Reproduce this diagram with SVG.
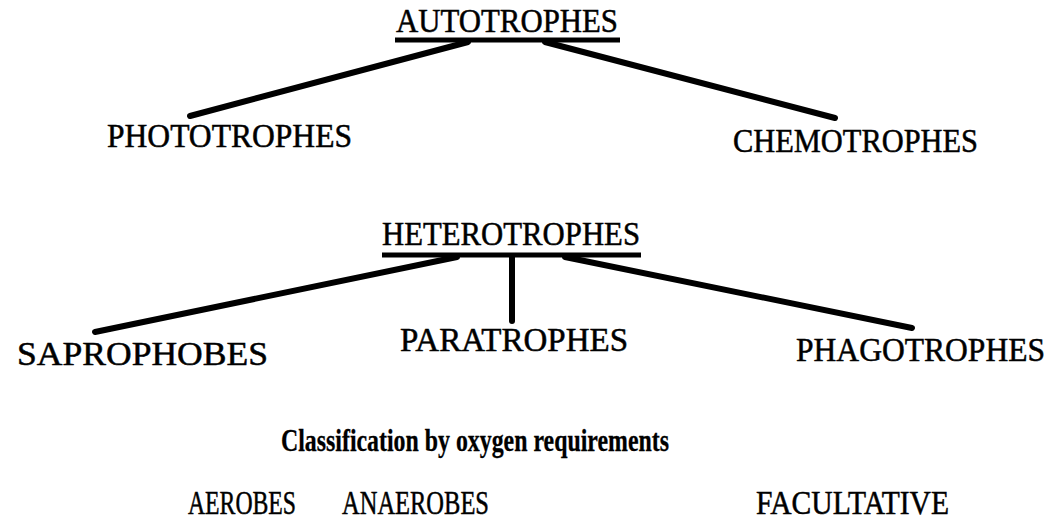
<svg xmlns="http://www.w3.org/2000/svg" width="1058" height="526" viewBox="0 0 1058 526">
<style>
text{font-family:"Liberation Serif","Times New Roman",serif;fill:#000;stroke:#000;stroke-width:0.5;font-size:33px}
.b{font-weight:bold;font-size:32px;stroke-width:0.3}
.c{stroke:#000;stroke-width:6;stroke-linecap:round;fill:none}
.u{stroke:#000;stroke-width:5;fill:none}
</style>
<rect width="1058" height="526" fill="#fff"/>
<g id="connectors">
<line class="u" x1="395" y1="40" x2="620" y2="40"/>
<line class="c" x1="468" y1="42" x2="190" y2="116"/>
<line class="c" x1="545" y1="42" x2="835" y2="118"/>
<line class="u" x1="382" y1="255" x2="641" y2="255"/>
<line class="c" x1="457" y1="257" x2="95" y2="332"/>
<line class="c" x1="512" y1="256" x2="512" y2="321"/>
<line class="c" x1="565" y1="257" x2="912" y2="328"/>
</g>
<g id="autotrophes"><text x="396" y="32" textLength="222" lengthAdjust="spacingAndGlyphs">AUTOTROPHES</text></g>
<g id="phototrophes"><text x="107" y="147" textLength="245" lengthAdjust="spacingAndGlyphs">PHOTOTROPHES</text></g>
<g id="chemotrophes"><text x="733" y="152" textLength="245" lengthAdjust="spacingAndGlyphs">CHEMOTROPHES</text></g>
<g id="heterotrophes"><text x="382" y="245" textLength="258" lengthAdjust="spacingAndGlyphs">HETEROTROPHES</text></g>
<g id="saprophobes"><text x="17" y="365" textLength="251" lengthAdjust="spacingAndGlyphs">SAPROPHOBES</text></g>
<g id="paratrophes"><text x="400" y="351" textLength="228" lengthAdjust="spacingAndGlyphs">PARATROPHES</text></g>
<g id="phagotrophes"><text x="796" y="361" textLength="249" lengthAdjust="spacingAndGlyphs">PHAGOTROPHES</text></g>
<g id="oxygen-title"><text class="b" x="281" y="451" textLength="388" lengthAdjust="spacingAndGlyphs">Classification by oxygen requirements</text></g>
<g id="aerobes"><text x="188" y="514" textLength="108" lengthAdjust="spacingAndGlyphs">AEROBES</text></g>
<g id="anaerobes"><text x="342" y="514" textLength="147" lengthAdjust="spacingAndGlyphs">ANAEROBES</text></g>
<g id="facultative"><text x="756" y="514" textLength="193" lengthAdjust="spacingAndGlyphs">FACULTATIVE</text></g>
</svg>
